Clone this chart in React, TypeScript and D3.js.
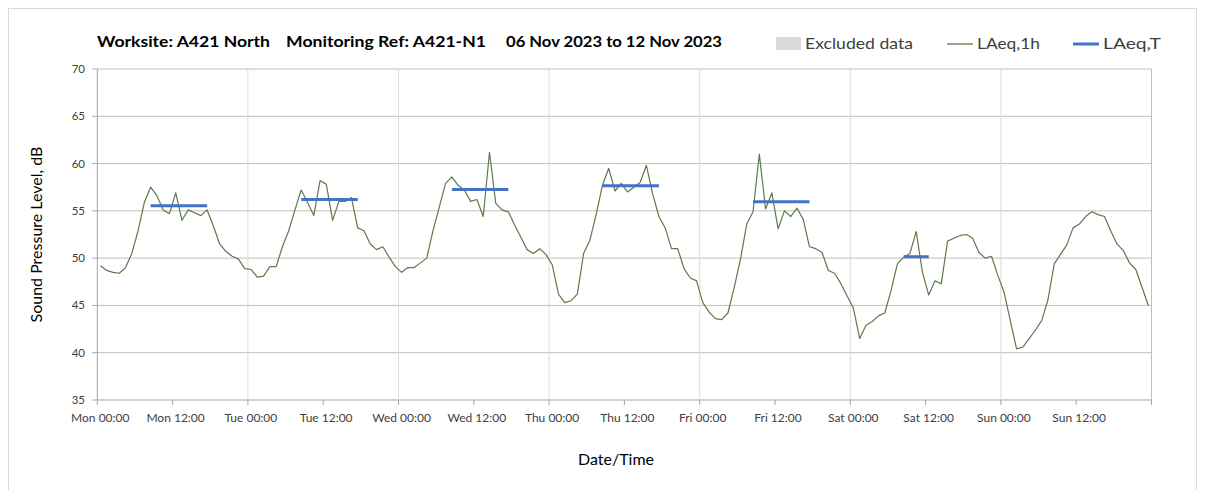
import React from "react";
import * as d3 from "d3";

const dayNames = ["Mon", "Tue", "Wed", "Thu", "Fri", "Sat", "Sun"];
const mon = [49.2, 48.7, 48.5, 48.4, 49.0, 50.5, 52.9, 55.9, 57.5, 56.6, 55.1, 54.7, 56.9, 54.0, 55.1, 54.8, 54.5, 55.1, 53.4, 51.5, 50.7, 50.2, 49.9, 48.9];
const tue = [48.8, 48.0, 48.1, 49.1, 49.1, 51.2, 52.9, 55.1, 57.2, 55.9, 54.5, 58.2, 57.8, 54.0, 56.0, 56.0, 56.4, 53.2, 52.9, 51.5, 50.9, 51.2, 50.1, 49.1];
const wed = [48.5, 49.0, 49.0, 49.5, 50.0, 52.9, 55.4, 57.9, 58.6, 57.7, 57.2, 56.0, 56.2, 54.4, 61.2, 55.8, 55.1, 54.9, 53.5, 52.2, 50.9, 50.5, 51.0, 50.4];
const thu = [49.3, 46.2, 45.3, 45.5, 46.2, 50.5, 51.9, 54.6, 57.7, 59.5, 57.1, 57.9, 57.0, 57.5, 58.0, 59.8, 56.8, 54.4, 53.2, 51.0, 51.0, 48.9, 47.9, 47.6];
const fri = [45.3, 44.3, 43.6, 43.5, 44.2, 46.9, 49.9, 53.6, 54.9, 61.0, 55.2, 56.9, 53.1, 55.0, 54.4, 55.3, 54.1, 51.2, 51.0, 50.6, 48.7, 48.4, 47.3, 46.0];
const sat = [44.7, 41.5, 42.9, 43.3, 43.9, 44.2, 46.6, 49.4, 50.1, 50.5, 52.8, 48.5, 46.1, 47.6, 47.3, 51.8, 52.1, 52.4, 52.5, 52.1, 50.6, 50.0, 50.2, 48.2];
const sun = [46.4, 43.4, 40.4, 40.6, 41.5, 42.4, 43.4, 45.6, 49.4, 50.4, 51.4, 53.2, 53.6, 54.4, 54.9, 54.6, 54.4, 52.9, 51.5, 50.8, 49.5, 48.8, 46.9, 45.0];
const laeqT = [55.55, 56.2, 57.25, 57.65, 55.95, 50.15];
const periodStartHour = [8, 8, 8, 8, 8, 8];
const periodEndHour = [17, 17, 17, 17, 17, 12];
const yTicks = [35, 40, 45, 50, 55, 60, 65, 70];
const tickHours = d3.range(0, 169, 12);

const FONT = "Lato, 'Open Sans', sans-serif";

export default function App() {
  const W = 1205, H = 490;
  const x = d3.scaleLinear().domain([0, 168]).range([97.3, 1151.5]);
  const y = d3.scaleLinear().domain([35, 70]).range([400, 69]);
  const series = [mon, tue, wed, thu, fri, sat, sun].flat();
  const line = d3.line<number>().x((_, i) => x(i + 0.5)).y((d) => y(d));
  const tickLabel = (h: number) => `${dayNames[Math.floor(h / 24) % 7]} ${h % 24 === 0 ? "00:00" : "12:00"}`;

  return (
    <svg width={W} height={H} style={{ position: "absolute", left: 0, top: 0, background: "#fff" }} fontFamily={FONT}>
      <rect x={8.5} y={8.5} width={1188} height={490} fill="#fff" stroke="#d9d9d9" />
      {/* horizontal gridlines */}
      {yTicks.map((t) => (
        <line key={"h" + t} x1={x(0)} x2={x(168)} y1={y(t)} y2={y(t)} stroke={t === 35 ? "#a6a6a6" : "#bfbfbf"} strokeWidth={1} />
      ))}
      {/* vertical day gridlines */}
      {d3.range(24, 168, 24).map((h) => (
        <line key={"v" + h} x1={x(h)} x2={x(h)} y1={y(70)} y2={y(35)} stroke="#dcdcdc" />
      ))}
      <line x1={x(0)} x2={x(0)} y1={y(70)} y2={y(35)} stroke="#a6a6a6" />
      <line x1={x(168)} x2={x(168)} y1={y(70)} y2={y(35)} stroke="#bfbfbf" />
      {/* y ticks */}
      {yTicks.map((t) => (
        <g key={"yt" + t}>
          <line x1={x(0) - 5} x2={x(0)} y1={y(t)} y2={y(t)} stroke="#a6a6a6" />
          <text x={85} y={y(t) + 4} fontSize={11.5} textAnchor="end" fill="#404040">{t}</text>
        </g>
      ))}
      {/* x ticks */}
      {tickHours.map((h) => (
        <line key={"xt" + h} x1={x(h)} x2={x(h)} y1={y(35)} y2={y(35) + 5} stroke="#a6a6a6" />
      ))}
      {tickHours.slice(0, -1).map((h) => (
        <text key={"xl" + h} x={x(h) + 3} y={422} fontSize={12} textAnchor="middle" fill="#404040">{tickLabel(h)}</text>
      ))}
      {/* data */}
      <path d={line(series) || ""} fill="none" stroke="#5d7a48" strokeWidth={1.2} strokeLinejoin="round" />
      {laeqT.map((v, d) => (
        <line key={"t" + d} x1={x(d * 24 + periodStartHour[d] + 0.5)} x2={x(d * 24 + periodEndHour[d] + 0.5)} y1={y(v)} y2={y(v)} stroke="#4472c4" strokeWidth={3} />
      ))}
      {/* titles */}
      <g fontWeight="bold" fontSize={15.5} fill="#000">
        <text x={97} y={47} textLength={173} lengthAdjust="spacingAndGlyphs">Worksite: A421 North</text>
        <text x={286} y={47} textLength={200} lengthAdjust="spacingAndGlyphs">Monitoring Ref: A421-N1</text>
        <text x={506} y={47} textLength={216} lengthAdjust="spacingAndGlyphs">06 Nov 2023 to 12 Nov 2023</text>
      </g>
      {/* legend */}
      <rect x={776} y={37} width={25} height={13} fill="#d9d9d9" />
      <text x={805} y={49} fontSize={16} fill="#404040" textLength={108} lengthAdjust="spacingAndGlyphs">Excluded data</text>
      <line x1={947} x2={973} y1={44} y2={44} stroke="#4f6b3a" strokeWidth={1.2} />
      <text x={977} y={49} fontSize={16} fill="#404040" textLength={63} lengthAdjust="spacingAndGlyphs">LAeq,1h</text>
      <line x1={1073} x2={1099} y1={44} y2={44} stroke="#4472c4" strokeWidth={3} />
      <text x={1103} y={49} fontSize={16} fill="#404040" textLength={58} lengthAdjust="spacingAndGlyphs">LAeq,T</text>
      {/* axis titles */}
      <text transform={`translate(42,${(y(70) + y(35)) / 2}) rotate(-90)`} fontSize={16} textAnchor="middle" fill="#000">Sound Pressure Level, dB</text>
      <text x={616} y={465} fontSize={16} textAnchor="middle" fill="#000">Date/Time</text>
    </svg>
  );
}
